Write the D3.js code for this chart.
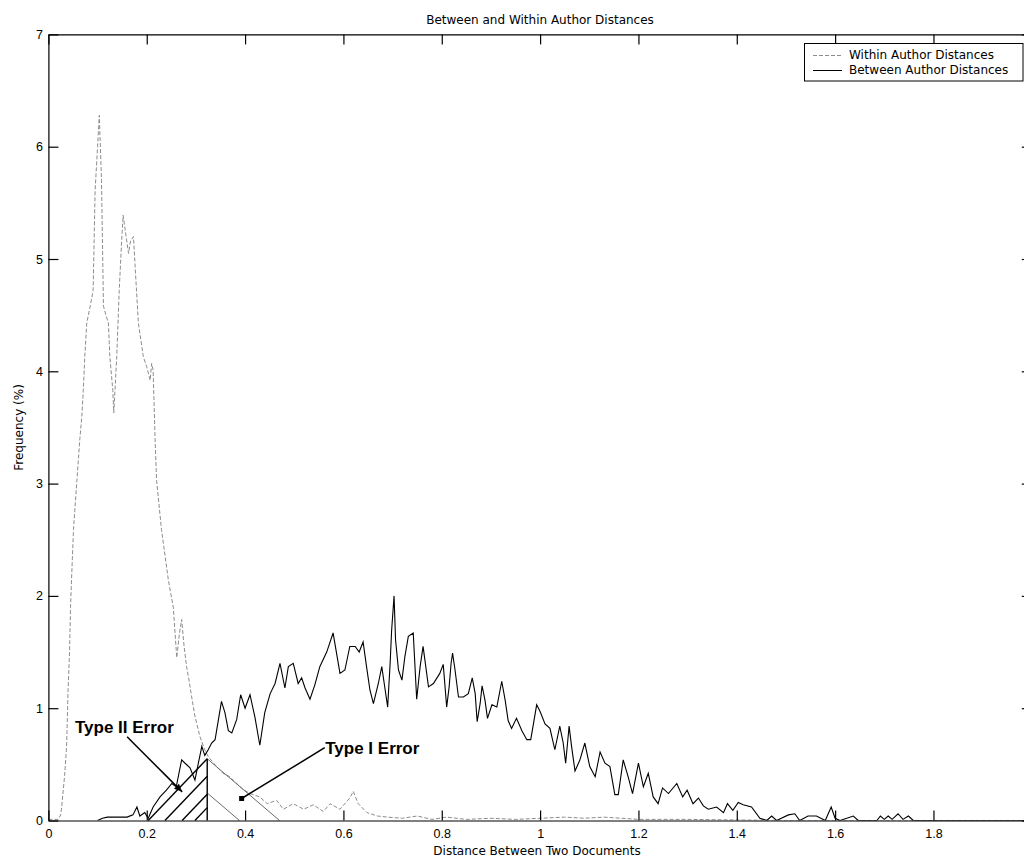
<!DOCTYPE html>
<html>
<head>
<meta charset="utf-8">
<script src="https://cdn.jsdelivr.net/npm/d3@7"></script>
<style>
  html, body { margin: 0; padding: 0; background: #fff; }
  svg { display: block; }
</style>
</head>
<body>
<svg id="chart" width="1024" height="857"></svg>
<script>
// ---------------- DATA ----------------
const chartTitle = "Between and Within Author Distances";
const xLabel = "Distance Between Two Documents";
const yLabel = "Frequency (%)";
const seriesNames = ["Within Author Distances", "Between Author Distances"];
const xTicks = [0, 0.2, 0.4, 0.6, 0.8, 1, 1.2, 1.4, 1.6, 1.8, 2];
const xTickLabels = ["0", "0.2", "0.4", "0.6", "0.8", "1", "1.2", "1.4", "1.6", "1.8", ""];
const yTicks = [0, 1, 2, 3, 4, 5, 6, 7];
const yTickLabels = ["0", "1", "2", "3", "4", "5", "6", "7"];

// Within author distances (x = distance, y = frequency %)
const withinX = [0.000,0.020,0.025,0.027,0.033,0.037,0.040,0.043,0.045,0.047,0.051,0.058,0.064,0.068,0.071,0.074,0.078,0.085,0.091,0.095,0.100,0.1035,0.108,0.112,0.117,0.122,0.125,0.131,0.133,0.139,0.144,0.149,0.152,0.158,0.163,0.167,0.173,0.176,0.180,0.183,0.190,0.193,0.200,0.207,0.210,0.213,0.217,0.220,0.230,0.244,0.254,0.261,0.266,0.271,0.276,0.281,0.286,0.291,0.298,0.308,0.318,0.325,0.342,0.355,0.369,0.383,0.395,0.410,0.430,0.445,0.464,0.478,0.498,0.519,0.539,0.559,0.573,0.593,0.613,0.620,0.630,0.648,0.669,0.690,0.720,0.750,0.780,0.810,0.850,0.900,0.950,1.000,1.050,1.090,1.130,1.200,1.300,1.500,2.000];
const withinY = [0.01,0.01,0.05,0.12,0.40,0.66,1.16,1.50,1.90,2.14,2.59,3.03,3.40,3.60,3.83,4.13,4.43,4.58,4.72,5.61,6.00,6.28,5.70,4.58,4.50,4.43,4.13,3.83,3.63,4.13,4.72,5.16,5.39,5.20,5.05,5.16,5.20,4.96,4.66,4.43,4.22,4.13,4.04,3.92,4.07,4.01,3.39,3.03,2.59,2.14,1.90,1.45,1.65,1.79,1.55,1.37,1.25,1.11,0.93,0.75,0.63,0.57,0.48,0.42,0.39,0.33,0.28,0.24,0.21,0.15,0.18,0.10,0.15,0.10,0.14,0.08,0.15,0.10,0.20,0.26,0.15,0.07,0.04,0.03,0.02,0.04,0.01,0.03,0.01,0.02,0.01,0.02,0.03,0.02,0.03,0.01,0.01,0.00,0.00];

// Between author distances
const betweenX = [0.100,0.110,0.120,0.140,0.160,0.172,0.180,0.186,0.196,0.203,0.213,0.227,0.240,0.251,0.260,0.271,0.278,0.288,0.298,0.305,0.312,0.318,0.325,0.332,0.339,0.352,0.359,0.366,0.373,0.383,0.391,0.400,0.410,0.420,0.430,0.440,0.451,0.461,0.471,0.481,0.488,0.498,0.508,0.515,0.522,0.532,0.542,0.552,0.566,0.579,0.586,0.593,0.603,0.613,0.624,0.632,0.640,0.647,0.654,0.661,0.671,0.678,0.685,0.690,0.695,0.698,0.703,0.706,0.712,0.719,0.725,0.732,0.742,0.749,0.756,0.762,0.773,0.783,0.796,0.803,0.810,0.815,0.819,0.822,0.827,0.834,0.844,0.854,0.862,0.868,0.872,0.878,0.882,0.888,0.893,0.902,0.912,0.922,0.929,0.935,0.942,0.952,0.963,0.973,0.981,0.993,1.000,1.010,1.020,1.030,1.040,1.047,1.052,1.059,1.064,1.071,1.081,1.091,1.101,1.112,1.122,1.132,1.142,1.152,1.159,1.169,1.179,1.188,1.200,1.210,1.220,1.230,1.240,1.249,1.261,1.278,1.290,1.299,1.311,1.322,1.332,1.342,1.359,1.373,1.381,1.392,1.403,1.413,1.430,1.447,1.461,1.471,1.481,1.505,1.518,1.528,1.545,1.562,1.580,1.592,1.600,1.610,1.637,1.647,1.685,1.692,1.700,1.708,1.716,1.728,1.738,1.749,1.759,2.000];
const betweenY = [0.00,0.02,0.03,0.03,0.03,0.05,0.12,0.04,0.07,0.02,0.12,0.21,0.27,0.33,0.30,0.54,0.51,0.47,0.36,0.51,0.66,0.58,0.63,0.69,0.72,1.06,0.96,0.80,0.78,0.90,1.12,1.00,1.12,0.92,0.67,0.96,1.13,1.22,1.40,1.18,1.37,1.40,1.22,1.27,1.18,1.08,1.21,1.37,1.50,1.67,1.49,1.31,1.34,1.55,1.55,1.50,1.59,1.37,1.16,1.04,1.22,1.37,1.16,1.01,1.40,1.69,2.00,1.61,1.34,1.25,1.46,1.64,1.67,1.08,1.37,1.55,1.19,1.22,1.31,1.39,1.01,1.19,1.40,1.49,1.34,1.10,1.10,1.13,1.27,1.13,0.88,1.04,1.20,1.07,0.91,1.03,1.01,1.24,1.07,0.89,0.82,0.91,0.80,0.72,0.72,1.03,0.97,0.86,0.82,0.63,0.84,0.69,0.51,0.84,0.66,0.44,0.54,0.69,0.48,0.39,0.61,0.51,0.48,0.23,0.23,0.54,0.39,0.24,0.51,0.30,0.42,0.21,0.15,0.29,0.24,0.33,0.21,0.27,0.15,0.20,0.13,0.10,0.12,0.07,0.15,0.09,0.16,0.14,0.12,0.02,0.00,0.04,0.00,0.05,0.06,0.00,0.04,0.04,0.00,0.12,0.02,0.00,0.04,0.00,0.00,0.04,0.01,0.04,0.01,0.06,0.01,0.04,0.00,0.00];

// Error region annotation (data units)
const threshold = 0.323;          // decision threshold (vertical line)
const regionTop = 0.55;           // apex height of the two triangles
const typeIIStart = 0.203;        // left foot of Type II triangle
const typeIEnd = 0.47;            // right foot of Type I triangle
const typeIIHatchFeet = [0.203, 0.237, 0.272, 0.298];
const typeIHatchHeights = [0.55, 0.245];
const annTypeII = { label: "Type II Error", tx: 0.054, ty: 0.778, from: [0.160, 0.745], to: [0.272, 0.255] };
const annTypeI  = { label: "Type I Error",  tx: 0.563, ty: 0.59,  from: [0.562, 0.648], to: [0.393, 0.196] };

// ---------------- DRAW ----------------
const svg = d3.select("#chart");
const W = 1024, H = 857;
const plot = { left: 48.4, right: 1031.8, top: 34.4, bottom: 820.5 };

const x = d3.scaleLinear().domain([0, 2]).range([plot.left, plot.right]);
const y = d3.scaleLinear().domain([0, 7]).range([plot.bottom, plot.top]);

svg.append("rect").attr("width", W).attr("height", H).attr("fill", "#fff");

const tickFont = "'Liberation Sans', Arial, sans-serif";
const textFont = "'DejaVu Sans', sans-serif";

// Title
svg.append("text")
  .attr("x", 540).attr("y", 24)
  .attr("text-anchor", "middle")
  .attr("font-family", textFont).attr("font-size", 12)
  .text(chartTitle);

// Axes
const xAxisB = d3.axisBottom(x).tickValues(xTicks).tickFormat((d,i)=>xTickLabels[i]).tickSizeInner(-10).tickSizeOuter(0).tickPadding(9);
const xAxisT = d3.axisTop(x).tickValues(xTicks).tickFormat("").tickSizeInner(-10).tickSizeOuter(0);
const yAxisL = d3.axisLeft(y).tickValues(yTicks).tickFormat((d,i)=>yTickLabels[i]).tickSizeInner(-10).tickSizeOuter(0).tickPadding(5.5);
const yAxisR = d3.axisRight(y).tickValues(yTicks).tickFormat("").tickSizeInner(-10).tickSizeOuter(0);

function styleAxis(g) {
  g.selectAll("path.domain").attr("stroke", "#000").attr("stroke-width", 1.2);
  g.selectAll(".tick line").attr("stroke", "#000").attr("stroke-width", 1.2);
  g.selectAll(".tick text").attr("fill", "#000").attr("font-family", tickFont).attr("font-size", 12.5);
}

// Data lines (clipped to plot)
svg.append("clipPath").attr("id", "clip").append("rect")
  .attr("x", plot.left).attr("y", plot.top)
  .attr("width", plot.right - plot.left).attr("height", plot.bottom - plot.top);

const lineGen = d3.line().x(d => x(d[0])).y(d => y(d[1]));
const withinData = withinX.map((v, i) => [v, withinY[i]]);
const betweenData = betweenX.map((v, i) => [v, betweenY[i]]);

const gLines = svg.append("g").attr("clip-path", "url(#clip)");
gLines.append("path").datum(withinData)
  .attr("d", lineGen).attr("fill", "none")
  .attr("stroke", "#8c8c8c").attr("stroke-width", 1)
  .attr("stroke-dasharray", "4,2");

// Hatched error regions
const gH = svg.append("g");
const x0 = x(threshold), yb = y(0), yTop = y(regionTop);
// Type II: "/" lines
const slopeII = (yb - yTop) / (x0 - x(typeIIStart));
typeIIHatchFeet.forEach(b => {
  const xb = x(b);
  gH.append("line")
    .attr("x1", xb).attr("y1", yb)
    .attr("x2", x0).attr("y2", yb - (x0 - xb) * slopeII)
    .attr("stroke", "#000").attr("stroke-width", 1.4);
});
// Type I: "\" lines
const slopeI = (yb - yTop) / (x(typeIEnd) - x0);
typeIHatchHeights.forEach(h => {
  const yh = y(h);
  gH.append("line")
    .attr("x1", x0).attr("y1", yh)
    .attr("x2", x0 + (yb - yh) / slopeI).attr("y2", yb)
    .attr("stroke", "#6a6a6a").attr("stroke-width", 1);
});
// threshold vertical
gH.append("line")
  .attr("x1", x0).attr("y1", yTop).attr("x2", x0).attr("y2", yb)
  .attr("stroke", "#000").attr("stroke-width", 1.4);

gLines.append("path").datum(betweenData)
  .attr("d", lineGen).attr("fill", "none")
  .attr("stroke", "#000").attr("stroke-width", 1.1);

// Axes drawn on top
styleAxis(svg.append("g").attr("transform", `translate(0,${plot.bottom})`).call(xAxisB));
styleAxis(svg.append("g").attr("transform", `translate(0,${plot.top})`).call(xAxisT));
styleAxis(svg.append("g").attr("transform", `translate(${plot.left},0)`).call(yAxisL));
styleAxis(svg.append("g").attr("transform", `translate(${plot.right},0)`).call(yAxisR));

// Axis labels
svg.append("text")
  .attr("x", 537).attr("y", 855)
  .attr("text-anchor", "middle")
  .attr("font-family", textFont).attr("font-size", 12)
  .text(xLabel);
svg.append("text")
  .attr("transform", `translate(23,${(plot.top + plot.bottom) / 2}) rotate(-90)`)
  .attr("text-anchor", "middle")
  .attr("font-family", textFont).attr("font-size", 12)
  .text(yLabel);

// Annotations
const gA = svg.append("g");
function annotate(a, headType) {
  gA.append("text")
    .attr("x", x(a.tx)).attr("y", y(a.ty))
    .attr("font-family", tickFont).attr("font-weight", "bold").attr("font-size", 17)
    .text(a.label);
  const [fx, fy] = [x(a.from[0]), y(a.from[1])];
  const [ex, ey] = [x(a.to[0]), y(a.to[1])];
  gA.append("line").attr("x1", fx).attr("y1", fy).attr("x2", ex).attr("y2", ey)
    .attr("stroke", "#000").attr("stroke-width", 1.5);
  if (headType === "arrow") {
    const ang = Math.atan2(ey - fy, ex - fx);
    const L = 8, Wd = 3.5;
    const bx = ex - L * Math.cos(ang), by = ey - L * Math.sin(ang);
    const p = [[ex, ey],
      [bx + Wd * Math.sin(ang), by - Wd * Math.cos(ang)],
      [bx - Wd * Math.sin(ang), by + Wd * Math.cos(ang)]];
    gA.append("path").attr("d", "M" + p.map(q => q.join(",")).join("L") + "Z").attr("fill", "#000");
  } else {
    gA.append("rect").attr("x", ex - 2.5).attr("y", ey - 2.5).attr("width", 5).attr("height", 5).attr("fill", "#000");
  }
}
annotate(annTypeII, "arrow");
annotate(annTypeI, "square");

// Legend
const lg = svg.append("g");
lg.append("rect").attr("x", 804.5).attr("y", 43.5).attr("width", 218.5).attr("height", 37.5)
  .attr("fill", "#fff").attr("stroke", "#000").attr("stroke-width", 1);
const legendRows = [
  { name: seriesNames[0], color: "#8c8c8c", dash: "4,2", y: 55.5 },
  { name: seriesNames[1], color: "#000", dash: null, y: 70.5 }
];
legendRows.forEach(r => {
  lg.append("line").attr("x1", 813).attr("x2", 842).attr("y1", r.y).attr("y2", r.y)
    .attr("stroke", r.color).attr("stroke-width", 1)
    .attr("stroke-dasharray", r.dash);
  lg.append("text").attr("x", 849).attr("y", r.y + 3.5)
    .attr("font-family", textFont).attr("font-size", 12)
    .text(r.name);
});
</script>
</body>
</html>
